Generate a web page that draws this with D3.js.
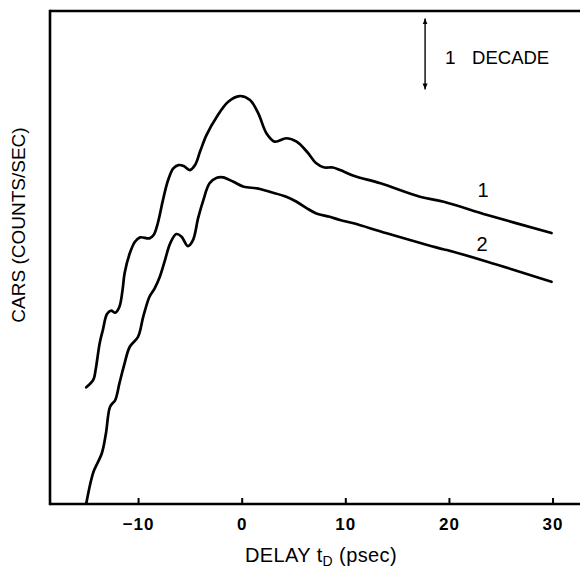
<!DOCTYPE html>
<html>
<head>
<meta charset="utf-8">
<script src="https://cdn.jsdelivr.net/npm/d3@7"></script>
<style>
  body { margin: 0; background: #fff; }
  text { font-family: "Liberation Sans", Arial, Helvetica, sans-serif; fill: #000; }
</style>
</head>
<body>
<div id="chart"></div>
<script>
// delay (psec) and CARS signal (counts/sec)
var delay1 = [-15.0, -14.3, -14.1, -13.7, -13.4, -13.0, -12.6, -12.2, -11.8, -11.5, -11.3, -10.8, -10.3, -9.8,
    -8.9, -8.5, -8.1, -7.6, -7.1, -6.6, -6.1, -5.6, -5.0, -4.5, -4.0, -3.4, -2.4, -1.3, -0.2, 0.8, 1.6, 2.4,
    3.2, 4.3, 5.3, 6.3, 7.2, 7.9, 8.8, 9.5, 10.8, 13.4, 17.2, 19.5, 23.7, 29.9];
var counts1 = [44, 57, 77, 185, 282, 474, 528, 495, 601, 1030, 1780, 3400, 4950, 5700,
    5520, 6150, 8990, 19100, 36600, 53500, 59500, 57600, 50600, 59500, 93700, 157000, 285000, 464000, 558000, 490000, 318000, 166000,
    127000, 142000, 127000, 91600, 62900, 55300, 54900, 50600, 42100, 32900, 21300, 18100, 11800, 6560];

var delay2 = [-15.0, -14.6, -14.3, -13.5, -13.1, -12.7, -12.2, -11.8, -11.3, -10.8, -10.0, -9.5, -8.9, -8.4,
    -7.9, -7.4, -6.9, -6.3, -5.8, -5.2, -4.7, -4.2, -3.7, -3.1, -2.4, -1.8, -0.8, 0.2, 1.5, 2.7, 4.3, 5.3,
    6.3, 7.2, 8.5, 9.5, 10.8, 14.0, 19.1, 19.8, 23.7, 29.9];
var counts2 = [1.02, 1.96, 2.85, 5.18, 9.9, 23.5, 29.2, 50, 96, 164, 227, 435, 831, 1090,
    1590, 2730, 4700, 6350, 5820, 4300, 5230, 10700, 19100, 32900, 39400, 39900, 34600, 29400, 27900, 25000, 21300, 18100,
    14600, 12400, 11100, 10000, 8990, 6500, 3990, 3780, 2590, 1350];

var xTicks = [-10, 0, 10, 20, 30];
var curveNames = ["1", "2"];
var curveLabelAt = [[23.3, 21300], [23.2, 3660]];
var decadeAt = [17.7, 6.9e6, 6.9e5];

var W = 580, H = 570;
var svg = d3.select("#chart").append("svg")
    .attr("width", W)
    .attr("height", H);

var pLeft = 50, pTop = 11, pBottom = 504, pRight = 580;

var x = d3.scaleLinear().domain([-18.5, 32.65]).range([pLeft, pRight]);
var y = d3.scaleLog().domain([1, 8.8e6]).range([pBottom, pTop]);

// frame: left axis, top line, bottom axis (no right side)
svg.append("line").attr("x1", pLeft).attr("x2", pRight).attr("y1", pTop).attr("y2", pTop)
    .attr("stroke", "#000").attr("stroke-width", 2.6);
svg.append("line").attr("x1", pLeft).attr("x2", pLeft).attr("y1", pTop - 1.3).attr("y2", pBottom + 1.3)
    .attr("stroke", "#000").attr("stroke-width", 2.6);

var xAxis = svg.append("g")
    .attr("transform", "translate(0," + pBottom + ")")
    .call(d3.axisBottom(x).tickValues(xTicks).tickSizeInner(-6).tickSizeOuter(0).tickPadding(14)
        .tickFormat(function(d) { return d < 0 ? "\u2212" + Math.abs(d) : d; }));
xAxis.select(".domain").attr("stroke-width", 2.6).attr("d", "M" + pLeft + ",0H" + pRight);
xAxis.selectAll(".tick line").attr("stroke-width", 2);
xAxis.selectAll(".tick text")
    .style("font-family", "'Liberation Sans', Arial, sans-serif")
    .style("font-size", "17px")
    .style("font-weight", "bold")
    .style("letter-spacing", "1px")
    .attr("fill", "#000");

// axis titles
var xt = svg.append("text")
    .attr("x", 321)
    .attr("y", 562)
    .attr("text-anchor", "middle")
    .style("font-size", "20px")
    .style("letter-spacing", "0.4px");
xt.append("tspan").text("DELAY t");
xt.append("tspan").attr("dy", 4).style("font-size", "14px").text("D");
xt.append("tspan").attr("dy", -4).text(" (psec)");

svg.append("text")
    .attr("transform", "translate(25,225) rotate(-90)")
    .attr("text-anchor", "middle")
    .style("font-size", "19px")
    .text("CARS (COUNTS/SEC)");

// curves
var line = d3.line()
    .x(function(d) { return x(d[0]); })
    .y(function(d) { return y(d[1]); })
    .curve(d3.curveCatmullRom.alpha(0.5));

var series = [d3.zip(delay1, counts1), d3.zip(delay2, counts2)];
svg.selectAll(".curve")
    .data(series)
    .enter().append("path")
    .attr("class", "curve")
    .attr("d", line)
    .attr("fill", "none")
    .attr("stroke", "#000")
    .attr("stroke-width", 2.7)
    .attr("stroke-linejoin", "round")
    .attr("stroke-linecap", "round");

svg.selectAll(".clabel")
    .data(curveNames)
    .enter().append("text")
    .attr("class", "clabel")
    .attr("x", function(d, i) { return x(curveLabelAt[i][0]); })
    .attr("y", function(d, i) { return y(curveLabelAt[i][1]); })
    .attr("text-anchor", "middle")
    .style("font-size", "20px")
    .text(function(d) { return d; });

// 1 decade marker
svg.append("defs").append("marker")
    .attr("id", "tip")
    .attr("viewBox", "0 -3 6 6")
    .attr("refX", 6).attr("refY", 0)
    .attr("markerWidth", 6).attr("markerHeight", 6)
    .attr("markerUnits", "userSpaceOnUse")
    .attr("orient", "auto-start-reverse")
    .append("path").attr("d", "M0,-2.5L6,0L0,2.5Z").attr("fill", "#000");

var ax = x(decadeAt[0]);
svg.append("line")
    .attr("x1", ax).attr("x2", ax)
    .attr("y1", y(decadeAt[1])).attr("y2", y(decadeAt[2]))
    .attr("stroke", "#000").attr("stroke-width", 1.4)
    .attr("marker-start", "url(#tip)")
    .attr("marker-end", "url(#tip)");
var midY = (y(decadeAt[1]) + y(decadeAt[2])) / 2;
svg.append("text").attr("x", ax + 20).attr("y", midY + 10).style("font-size", "19px").text("1");
svg.append("text").attr("x", ax + 47).attr("y", midY + 10).style("font-size", "18.5px").text("DECADE");
</script>
</body>
</html>
